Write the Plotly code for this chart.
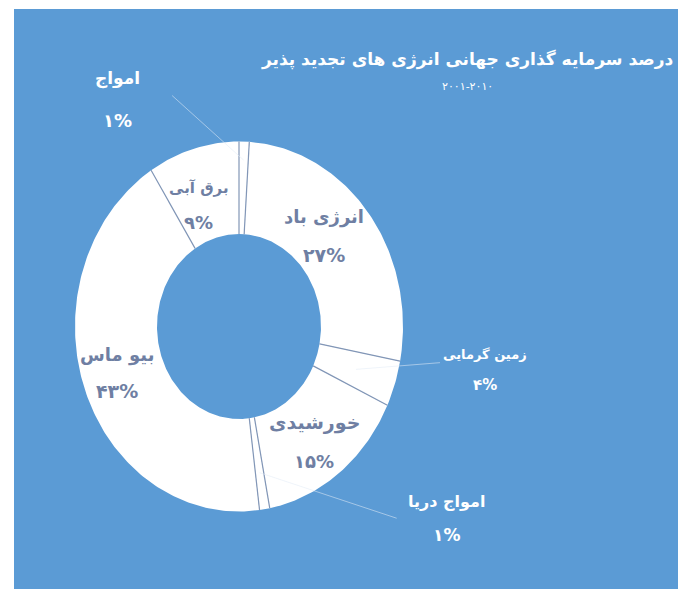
import math
import plotly.graph_objects as go

# Global renewable energy investment share by source (clockwise from the top)
sources = ["امواج", "انرژی باد", "زمین گرمایی", "خورشیدی", "امواج دریا", "بیو ماس", "برق آبی"]
shares = [1, 27, 4, 15, 1, 43, 9]
title_text = "درصد سرمایه گذاری جهانی انرژی های تجدید پذیر"
period_text = "۲۰۰۱-۲۰۱۰"

FA_DIGITS = str.maketrans("0123456789", "۰۱۲۳۴۵۶۷۸۹")


def fa_pct(v):
    return str(v).translate(FA_DIGITS) + "%"


W, H = 687, 589
CX, CY = 239, 326.5          # ring centre in px
RX, RY = 164, 185            # ring radii in px (slightly oval ring)
HOLE = 0.5
PANEL = "#5b9bd5"
SEP = "#8296b6"
INNER_TXT = "#6f7fa3"
FONT = "DejaVu Sans"

# label style: (inside?, radius factor, dx, dy, line gap, name size, pct size)
placement = [
    (False, 1.0, -127, -42, 42, 17, 18),
    (True, 0.75, -12, -5, 38, 18, 19),
    (False, 1.0, 90, -14, 30, 13, 15),
    (True, 0.75, 0, 6, 39, 19, 18),
    (False, 1.0, 182, 9, 34, 16, 17),
    (True, 0.75, -6, -1, 36, 18, 19),
    (True, 0.75, -6, 12, 35, 15, 18),
]
# leader lines for outside labels: (slice radius factor, end dx, end dy from label)
leaders = {0: (0.9, 55, -4), 2: (0.75, -45, -7), 4: (0.8, -50, 0)}


def unit(frac):
    ang = 2 * math.pi * frac
    return math.sin(ang), math.cos(ang)


fig = go.Figure()

total = sum(shares)
bounds = [0]
for v in shares:
    bounds.append(bounds[-1] + v)

# ring segments
for i, v in enumerate(shares):
    a0, a1 = bounds[i] / total, bounds[i + 1] / total
    n = max(4, int(400 * (a1 - a0)))
    fr = [a0 + (a1 - a0) * k / n for k in range(n + 1)]
    xs = [unit(f)[0] for f in fr] + [HOLE * unit(f)[0] for f in reversed(fr)]
    ys = [unit(f)[1] for f in fr] + [HOLE * unit(f)[1] for f in reversed(fr)]
    fig.add_trace(go.Scatter(x=xs + [xs[0]], y=ys + [ys[0]], mode="lines", fill="toself",
                             fillcolor="white", line=dict(width=0), hoverinfo="skip",
                             showlegend=False, name=sources[i]))

# radial separators between segments
sx, sy = [], []
for b in bounds[:-1]:
    ux, uy = unit(b / total)
    sx += [HOLE * ux, ux, None]
    sy += [HOLE * uy, uy, None]
fig.add_trace(go.Scatter(x=sx, y=sy, mode="lines", line=dict(color=SEP, width=1.2),
                         hoverinfo="skip", showlegend=False))

# x/y units are ring radii; pixel helpers for the label offsets
def to_data(px_x, px_y):
    return (px_x - CX) / RX, (CY - px_y) / RY


annotations = []
for i, (name, v) in enumerate(zip(sources, shares)):
    mid = (bounds[i] + v / 2) / total
    inside, rf, dx, dy, gap, fs_name, fs_pct = placement[i]
    ux, uy = unit(mid)
    ax, ay = CX + rf * RX * ux, CY - rf * RY * uy
    lx, ly = ax + dx, ay + dy
    color = INNER_TXT if inside else "white"
    for text, yy, size in ((name, ly - gap / 2, fs_name), (fa_pct(v), ly + gap / 2, fs_pct)):
        x, y = to_data(lx, yy)
        annotations.append(dict(x=x, y=y, xref="x", yref="y", text="<b>" + text + "</b>",
                                showarrow=False, font=dict(family=FONT, size=size, color=color),
                                xanchor="center", yanchor="middle"))
    if i in leaders:
        lrf, ex, ey = leaders[i]
        x0, y0 = lrf * ux, lrf * uy
        x1, y1 = to_data(lx + ex, ly + ey)
        fig.add_trace(go.Scatter(x=[x0, x1], y=[y0, y1], mode="lines",
                                 line=dict(color="rgba(225,235,245,0.55)", width=1),
                                 hoverinfo="skip", showlegend=False))

tx, ty = 675 / W, 1 - 60 / H
annotations.append(dict(x=tx, y=ty, xref="paper", yref="paper", text="<b>" + title_text + "</b>",
                        showarrow=False, font=dict(family=FONT, size=17, color="white"),
                        xanchor="right", yanchor="middle"))
annotations.append(dict(x=467 / W, y=1 - 86 / H, xref="paper", yref="paper", text=period_text,
                        showarrow=False, font=dict(family=FONT, size=11, color="white"),
                        xanchor="center", yanchor="middle"))

fig.update_layout(
    width=W, height=H,
    margin=dict(l=0, r=0, t=0, b=0),
    paper_bgcolor="white",
    plot_bgcolor="rgba(0,0,0,0)",
    xaxis=dict(range=[-CX / RX, (W - CX) / RX], visible=False, fixedrange=True),
    yaxis=dict(range=[(CY - H) / RY, CY / RY], visible=False, fixedrange=True),
    annotations=annotations,
    shapes=[dict(type="rect", xref="paper", yref="paper", x0=14 / W, x1=678 / W, y0=0,
                 y1=1 - 9 / H, fillcolor=PANEL, line=dict(width=0), layer="below")],
)

fig.write_html("out.html")
